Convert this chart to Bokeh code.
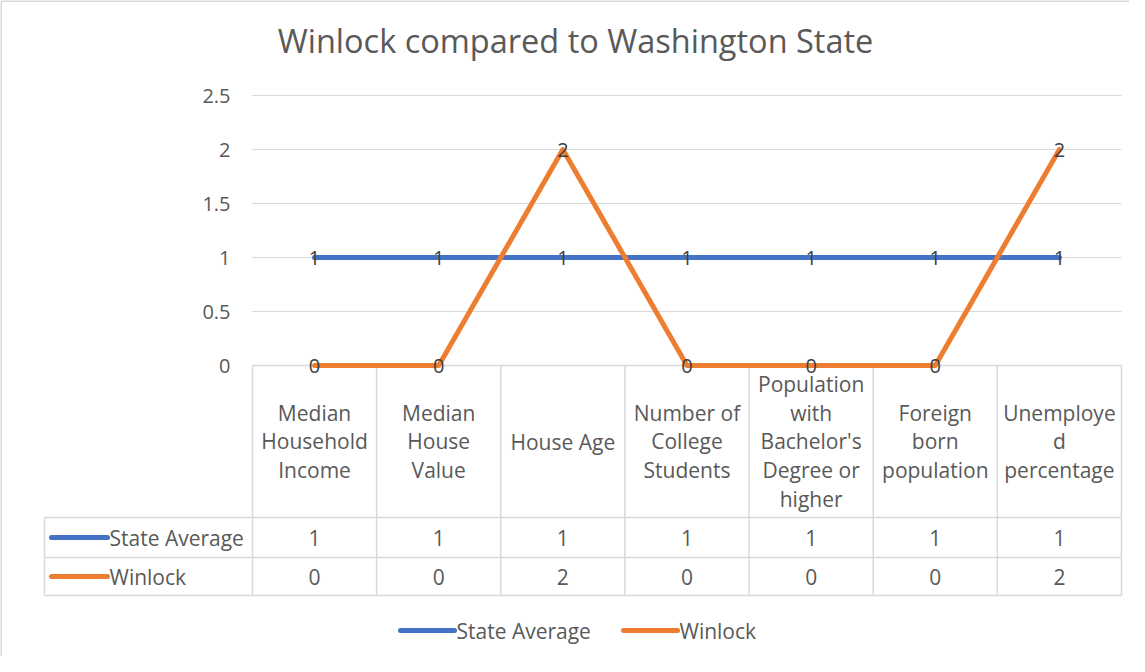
from bokeh.plotting import figure
from bokeh.models import Range1d
from bokeh.core.properties import value
from bokeh.embed import file_html
from bokeh.resources import INLINE

# ---- data ----
categories = ["Median\nHousehold\nIncome", "Median\nHouse\nValue", "House Age",
              "Number of\nCollege\nStudents", "Population\nwith\nBachelor's\nDegree or\nhigher",
              "Foreign\nborn\npopulation", "Unemploye\nd\npercentage"]
series_names = ["State Average", "Winlock"]
state_average = [1, 1, 1, 1, 1, 1, 1]
winlock = [0, 0, 2, 0, 0, 0, 2]
y_ticks = [0, 0.5, 1, 1.5, 2, 2.5]
title_text = "Winlock compared to Washington State"

BLUE = "#4472C4"
ORANGE = "#ED7D31"
GRID = "#D9D9D9"
TXT = "#595959"
FONT = "Open Sans"
FS = "21px"

W, H = 1129, 656
# layout mapping (reference pixel -> data units); cell i spans [i, i+1]
CELL = 124.14
X0PX = 260.0
Y0PX = 373.0
PXU = 108.0


def xd(px):
    return (px - X0PX) / CELL


def yd(py):
    return (Y0PX - py) / PXU


p = figure(width=W, height=H, output_backend="svg", toolbar_location=None,
           x_range=Range1d(xd(8), xd(8 + W)), y_range=Range1d(yd(8 + H), yd(8)),
           min_border=0, min_border_left=0, min_border_right=0,
           min_border_top=0, min_border_bottom=0)
p.axis.visible = False
p.grid.visible = False
p.outline_line_color = None
p.background_fill_color = "white"
p.border_fill_color = "white"

n = len(categories)
xs = [i + 0.5 for i in range(n)]

# chart border (top and left)
p.segment(x0=[xd(8.5), xd(8.5)], y0=[yd(8.5), yd(8.5)], x1=[xd(1140), xd(8.5)], y1=[yd(8.5), yd(700)],
          line_color=GRID, line_width=2)

# gridlines
grid_y = [t for t in y_ticks if t > 0]
p.segment(x0=[0] * len(grid_y), x1=[n] * len(grid_y), y0=grid_y, y1=grid_y,
          line_color=GRID, line_width=1)

# y tick labels
p.text(x=[xd(238)] * len(y_ticks), y=y_ticks, text=[("%g" % t) for t in y_ticks],
       text_align="right", text_baseline="middle", text_font=value(FONT),
       text_font_size="20px", text_color=TXT)

# title
p.text(x=[xd(583)], y=[yd(48)], text=[title_text], text_align="center", text_baseline="middle",
       text_font=value(FONT), text_font_size="32.5px", text_color=TXT)

# ---- data table ----
hdr_bot = yd(525)
r1_bot = yd(565)
r2_bot = yd(603)
left_x = xd(52)
# horizontal lines
p.segment(x0=[0, left_x, left_x, left_x], x1=[n, n, n, n], y0=[0, hdr_bot, r1_bot, r2_bot],
          y1=[0, hdr_bot, r1_bot, r2_bot], line_color=GRID, line_width=1.5)
# vertical lines
vx = list(range(n + 1))
p.segment(x0=vx, x1=vx, y0=[0] * len(vx), y1=[r2_bot] * len(vx), line_color=GRID, line_width=1.5)
p.segment(x0=[left_x], x1=[left_x], y0=[hdr_bot], y1=[r2_bot], line_color=GRID, line_width=1.5)

# category header labels
p.text(x=xs, y=[yd(449)] * n, text=categories, text_align="center", text_baseline="middle",
       text_font=value(FONT), text_font_size=FS, text_color=TXT, text_line_height=1.025)

# row values
row_y = [yd(545), yd(584)]
for vals, ry in zip([state_average, winlock], row_y):
    p.text(x=xs, y=[ry] * n, text=[str(v) for v in vals], text_align="center", text_baseline="middle",
           text_font=value(FONT), text_font_size=FS, text_color=TXT)

# row legend keys
for name, col, ry in zip(series_names, [BLUE, ORANGE], row_y):
    p.line(x=[xd(59), xd(115)], y=[ry, ry], line_color=col, line_width=5, line_cap="round")
    p.text(x=[xd(117)], y=[ry], text=[name], text_align="left", text_baseline="middle",
           text_font=value(FONT), text_font_size=FS, text_color=TXT)

# ---- series lines ----
p.line(x=xs, y=state_average, line_color=BLUE, line_width=5, line_join="round", line_cap="round")
p.line(x=xs, y=winlock, line_color=ORANGE, line_width=5, line_join="round", line_cap="round")

# data labels
for vals in [state_average, winlock]:
    p.text(x=xs, y=vals, text=[str(v) for v in vals], text_align="center", text_baseline="middle",
           text_font=value(FONT), text_font_size="20px", text_color="#404040")

# bottom legend
ly = yd(638)
leg = [(BLUE, 408, 462, 464, series_names[0]), (ORANGE, 631, 685, 687, series_names[1])]
for col, a, b, t, name in leg:
    p.line(x=[xd(a), xd(b)], y=[ly, ly], line_color=col, line_width=5, line_cap="round")
    p.text(x=[xd(t)], y=[ly], text=[name], text_align="left", text_baseline="middle",
           text_font=value(FONT), text_font_size=FS, text_color=TXT)

open("out.html", "w").write(file_html(p, INLINE))
